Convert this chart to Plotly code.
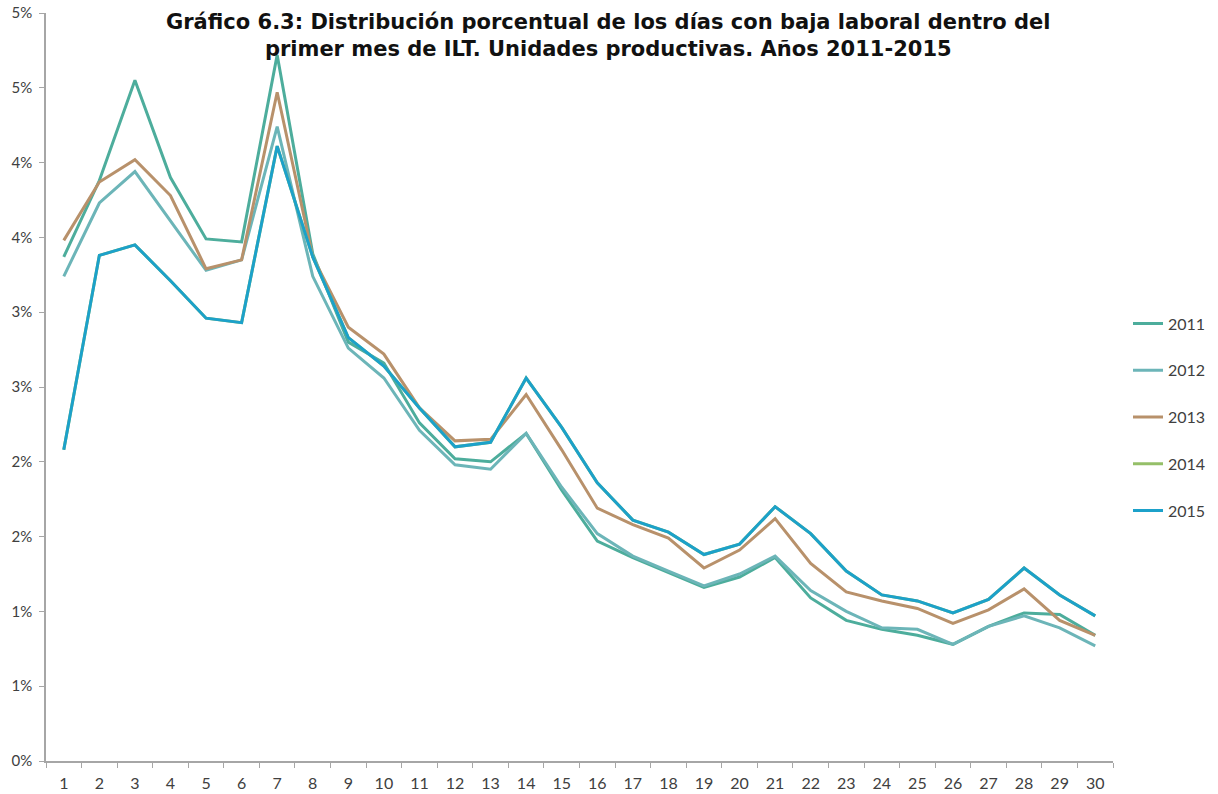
import plotly.graph_objects as go

days = [str(d) for d in range(1, 31)]

y2011 = [3.37, 3.88, 4.55, 3.90, 3.49, 3.47, 4.72, 3.39, 2.80, 2.66,
         2.26, 2.02, 2.00, 2.19, 1.81, 1.47, 1.36, 1.26, 1.16, 1.23,
         1.36, 1.09, 0.94, 0.88, 0.84, 0.78, 0.90, 0.99, 0.98, 0.84]
y2012 = [3.24, 3.73, 3.94, 3.61, 3.28, 3.35, 4.24, 3.24, 2.76, 2.56,
         2.21, 1.98, 1.95, 2.19, 1.83, 1.52, 1.37, 1.27, 1.17, 1.25,
         1.37, 1.14, 1.00, 0.89, 0.88, 0.78, 0.90, 0.97, 0.89, 0.77]
y2013 = [3.48, 3.87, 4.02, 3.78, 3.29, 3.35, 4.47, 3.37, 2.90, 2.72,
         2.36, 2.14, 2.15, 2.45, 2.08, 1.69, 1.58, 1.49, 1.29, 1.41,
         1.62, 1.32, 1.13, 1.07, 1.02, 0.92, 1.01, 1.15, 0.94, 0.84]
y2014 = [2.08, 3.38, 3.45, 3.21, 2.96, 2.93, 4.11, 3.37, 2.83, 2.64,
         2.36, 2.10, 2.13, 2.56, 2.23, 1.86, 1.61, 1.53, 1.38, 1.45,
         1.70, 1.52, 1.27, 1.11, 1.07, 0.99, 1.08, 1.29, 1.11, 0.97]
y2015 = [2.08, 3.38, 3.45, 3.21, 2.96, 2.93, 4.11, 3.37, 2.83, 2.64,
         2.36, 2.10, 2.13, 2.56, 2.23, 1.86, 1.61, 1.53, 1.38, 1.45,
         1.70, 1.52, 1.27, 1.11, 1.07, 0.99, 1.08, 1.29, 1.11, 0.97]

series_names = ["2011", "2012", "2013", "2014", "2015"]
series_values = [y2011, y2012, y2013, y2014, y2015]
series_colors = ["#4DAD9C", "#6CB5B8", "#B8916B", "#95BF68", "#1CA1CA"]

y_tickvals = [0, 0.5, 1.0, 1.5, 2.0, 2.5, 3.0, 3.5, 4.0, 4.5, 5.0]
y_ticktext = ["0%", "1%", "1%", "2%", "2%", "3%", "3%", "4%", "4%", "5%", "5%"]

title_text = ("<b>Gráfico 6.3: Distribución porcentual de los días con baja laboral dentro del<br>"
              "primer mes de ILT. Unidades productivas. Años 2011-2015</b>")

fig = go.Figure()
for name, vals, col in zip(series_names, series_values, series_colors):
    fig.add_trace(go.Scatter(
        x=days, y=vals, name=name, mode="lines",
        line=dict(color=col, width=3),
        legendgroup=name,
    ))

fig.add_annotation(
    text=title_text, xref="paper", yref="paper",
    x=0.527, y=1.007, xanchor="center", yanchor="top",
    showarrow=False, align="center",
    font=dict(family="DejaVu Sans", size=21, color="#111111"),
)

fig.update_layout(
    width=1218, height=794,
    paper_bgcolor="white", plot_bgcolor="white",
    margin=dict(l=46, r=105, t=13, b=33, autoexpand=False),
    showlegend=True,
    legend=dict(
        xref="container", yref="container",
        x=1128 / 1218, xanchor="left", y=1 - 417 / 794, yanchor="middle",
        font=dict(family="Lato", size=16, color="#404040"),
        tracegroupgap=23, itemwidth=30,
        bgcolor="rgba(0,0,0,0)",
    ),
    xaxis=dict(
        type="category",
        range=[-0.5, 29.5],
        automargin=False,
        showgrid=False, zeroline=False,
        showline=True, linecolor="#A6A6A6", linewidth=1.5,
        ticks="outside", tickson="boundaries", ticklen=5, tickcolor="#A6A6A6",
        ticklabelstandoff=7,
        tickfont=dict(family="Lato", size=16, color="#404040"),
    ),
    yaxis=dict(
        range=[0, 5],
        automargin=False,
        tickvals=y_tickvals, ticktext=y_ticktext,
        showgrid=False, zeroline=False,
        showline=True, linecolor="#A6A6A6", linewidth=1.5,
        ticks="outside", ticklen=5, tickcolor="#A6A6A6",
        ticklabelstandoff=4,
        tickfont=dict(family="Lato", size=15, color="#404040"),
    ),
)

fig.write_html("out.html", config={"displayModeBar": False},
               post_script="document.body.style.margin='0';document.body.style.padding='0';")
